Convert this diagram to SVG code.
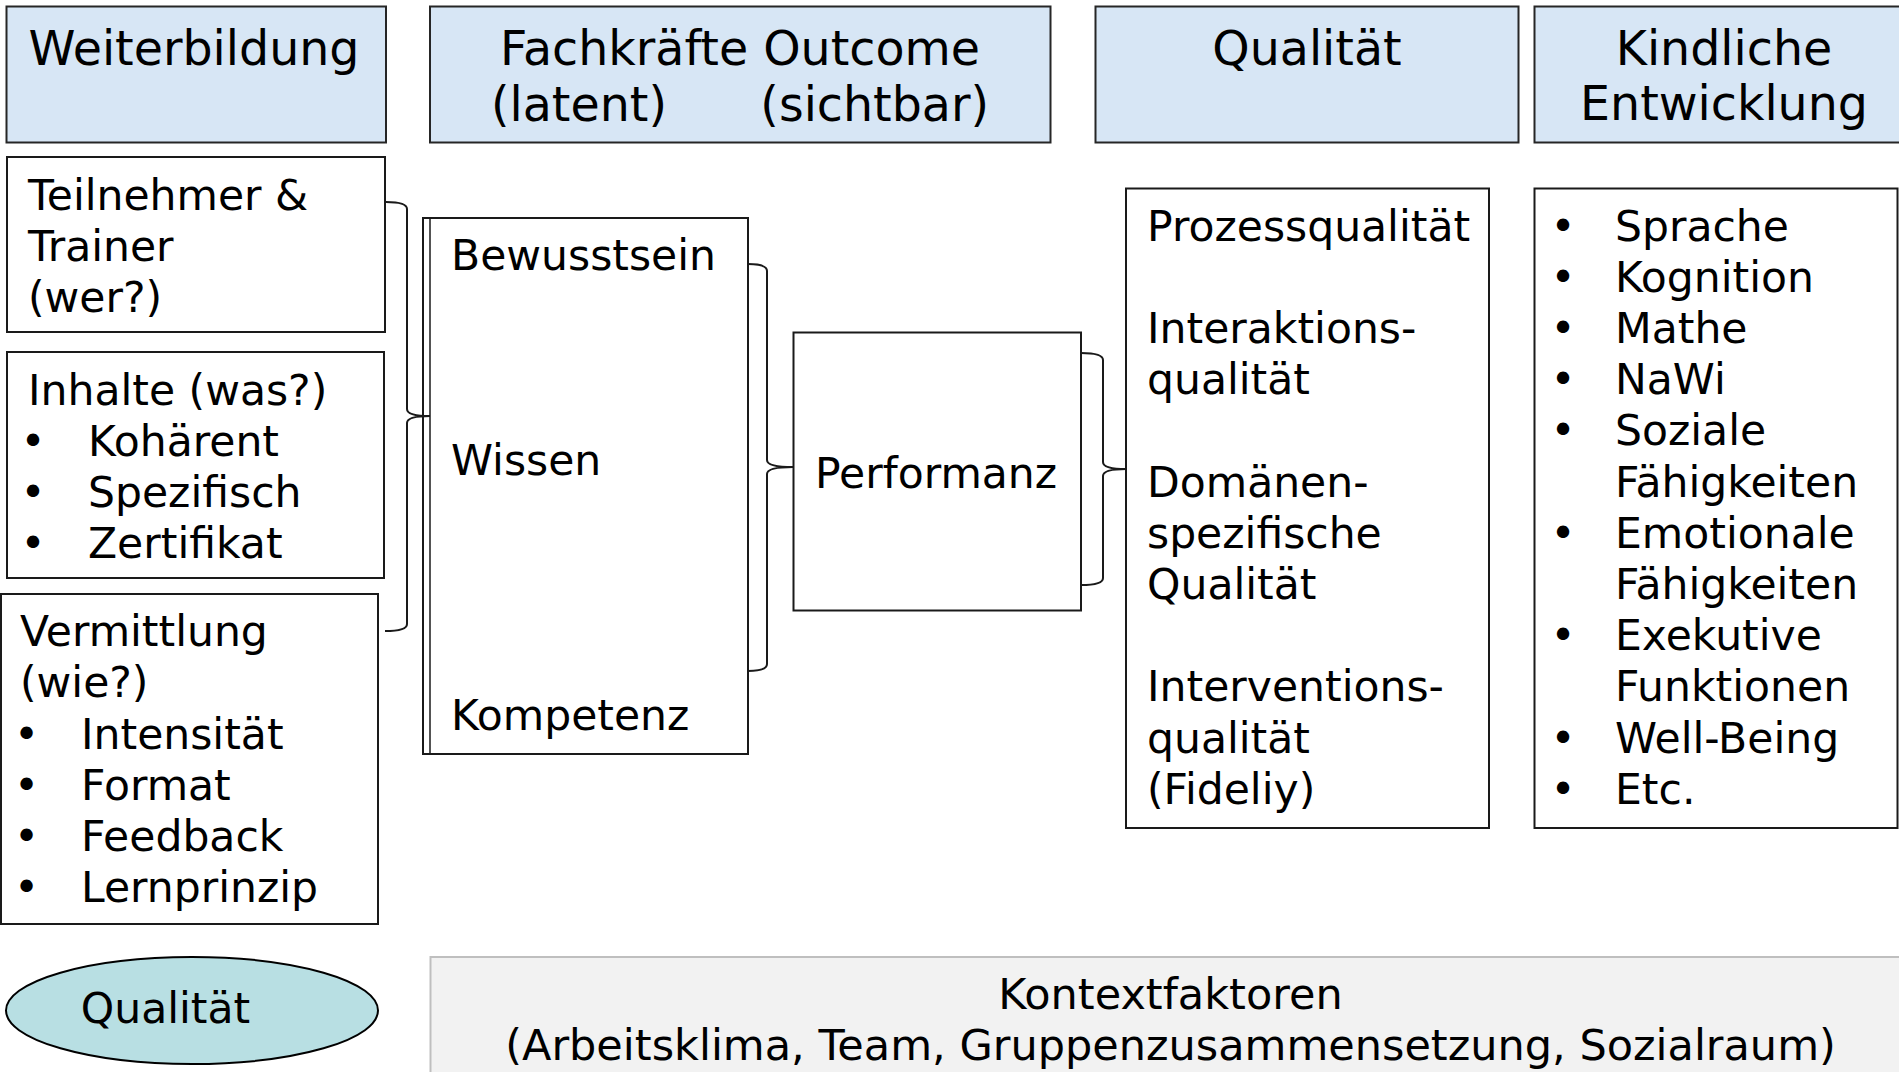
<svg xmlns="http://www.w3.org/2000/svg" width="1899" height="1072" viewBox="0 0 1899 1072">
<style>
text{font-family:"DejaVu Sans","Verdana","Liberation Sans",sans-serif;fill:#000}
.h{font-size:47.5px}
.b{font-size:42.5px}
.hdr{fill:#D7E6F5;stroke:#262626;stroke-width:2}
.box{fill:#fff;stroke:#1a1a1a;stroke-width:2}
.br{fill:none;stroke:#1a1a1a;stroke-width:2}
.m{text-anchor:middle}
</style>
<rect width="1899" height="1072" fill="#fff"/>
<g id="hdr-weiterbildung"><rect class="hdr" x="6.5" y="6.5" width="379.5" height="136"/><text class="h m" x="194" y="65">Weiterbildung</text></g>
<g id="hdr-fachkraefte"><rect class="hdr" x="430" y="6.5" width="620.5" height="136"/><text class="h m" x="740" y="65">Fachkräfte Outcome</text><text class="h"><tspan x="491" y="121">(latent)</tspan><tspan x="989" y="121" text-anchor="end">(sichtbar)</tspan></text></g>
<g id="hdr-qualitaet"><rect class="hdr" x="1095.5" y="6.5" width="423" height="136"/><text class="h m" x="1307" y="65">Qualität</text></g>
<g id="hdr-kindlich"><rect class="hdr" x="1534.5" y="6.5" width="380" height="136"/><text class="h m" x="1724" y="65">Kindliche</text><text class="h m" x="1724" y="120">Entwicklung</text></g>

<g id="teilnehmer"><rect class="box" x="7" y="157" width="378" height="175"/><text class="b"><tspan x="28" y="210">Teilnehmer &amp;</tspan><tspan x="28" y="261">Trainer</tspan><tspan x="28" y="312">(wer?)</tspan></text></g>
<g id="inhalte"><rect class="box" x="7" y="352" width="377" height="226"/><text class="b" x="28" y="405">Inhalte (was?)</text><text class="b m"><tspan x="33" y="456">•</tspan><tspan x="33" y="507">•</tspan><tspan x="33" y="558">•</tspan></text><text class="b"><tspan x="88" y="456">Kohärent</tspan><tspan x="88" y="507">Spezifisch</tspan><tspan x="88" y="558">Zertifikat</tspan></text></g>
<g id="vermittlung"><rect class="box" x="1" y="594" width="377" height="330"/><text class="b"><tspan x="20" y="646">Vermittlung</tspan><tspan x="20" y="697">(wie?)</tspan></text><text class="b m"><tspan x="26.5" y="749">•</tspan><tspan x="26.5" y="800">•</tspan><tspan x="26.5" y="851">•</tspan><tspan x="26.5" y="902">•</tspan></text><text class="b"><tspan x="81" y="749">Intensität</tspan><tspan x="81" y="800">Format</tspan><tspan x="81" y="851">Feedback</tspan><tspan x="81" y="902">Lernprinzip</tspan></text></g>

<g id="latent"><rect class="box" x="423" y="218" width="325" height="536"/><line x1="430" y1="218" x2="430" y2="754" stroke="#1a1a1a" stroke-width="1.5"/><text class="b"><tspan x="451" y="270">Bewusstsein</tspan><tspan x="451" y="475">Wissen</tspan><tspan x="451" y="730">Kompetenz</tspan></text></g>
<g id="performanz"><rect class="box" x="793.5" y="332.5" width="287.5" height="278"/><text class="b" x="815" y="488">Performanz</text></g>
<g id="qualitaet-liste"><rect class="box" x="1126" y="188.5" width="363" height="639.5"/><text class="b"><tspan x="1147" y="240.5">Prozessqualität</tspan><tspan x="1147" y="342.9">Interaktions-</tspan><tspan x="1147" y="394.1">qualität</tspan><tspan x="1147" y="496.5">Domänen-</tspan><tspan x="1147" y="547.7">spezifische</tspan><tspan x="1147" y="598.9">Qualität</tspan><tspan x="1147" y="701.3">Interventions-</tspan><tspan x="1147" y="752.5">qualität</tspan><tspan x="1147" y="803.7">(Fideliy)</tspan></text></g>
<g id="entwicklung-liste"><rect class="box" x="1534.5" y="188.5" width="363" height="639.5"/><text class="b m"><tspan x="1563" y="240.5">•</tspan><tspan x="1563" y="291.7">•</tspan><tspan x="1563" y="342.9">•</tspan><tspan x="1563" y="394.1">•</tspan><tspan x="1563" y="445.3">•</tspan><tspan x="1563" y="547.7">•</tspan><tspan x="1563" y="650.1">•</tspan><tspan x="1563" y="752.5">•</tspan><tspan x="1563" y="803.7">•</tspan></text><text class="b"><tspan x="1615" y="240.5">Sprache</tspan><tspan x="1615" y="291.7">Kognition</tspan><tspan x="1615" y="342.9">Mathe</tspan><tspan x="1615" y="394.1">NaWi</tspan><tspan x="1615" y="445.3">Soziale</tspan><tspan x="1615" y="496.5">Fähigkeiten</tspan><tspan x="1615" y="547.7">Emotionale</tspan><tspan x="1615" y="598.9">Fähigkeiten</tspan><tspan x="1615" y="650.1">Exekutive</tspan><tspan x="1615" y="701.3">Funktionen</tspan><tspan x="1615" y="752.5">Well-Being</tspan><tspan x="1615" y="803.7">Etc.</tspan></text></g>

<g id="qualitaet-oval"><ellipse cx="192" cy="1010.5" rx="186" ry="53.5" fill="#B8DFE3" stroke="#000" stroke-width="2"/><text class="b m" x="165.5" y="1023">Qualität</text></g>
<g id="kontext"><rect x="430.5" y="957" width="1490" height="200" fill="#F2F2F2" stroke="#BFBFBF" stroke-width="2"/><text class="m" font-size="43" x="1170.5" y="1009">Kontextfaktoren</text><text class="m" font-size="43" x="1170.5" y="1060">(Arbeitsklima, Team, Gruppenzusammensetzung, Sozialraum)</text></g>

<g id="connectors">
<path class="br" d="M386,202 Q407,202 407,209 L407,409 Q407,416 430,416 Q407,416 407,423 L407,624 Q407,631 385,631"/>
<path class="br" d="M748,264 Q767,264 767,271 L767,460 Q767,467 793,467 Q767,467 767,474 L767,664 Q767,671 748,671"/>
<path class="br" d="M1081,353 Q1103,353 1103,360 L1103,462 Q1103,469 1126,469 Q1103,469 1103,476 L1103,578 Q1103,585 1081,585"/>
</g>
</svg>
